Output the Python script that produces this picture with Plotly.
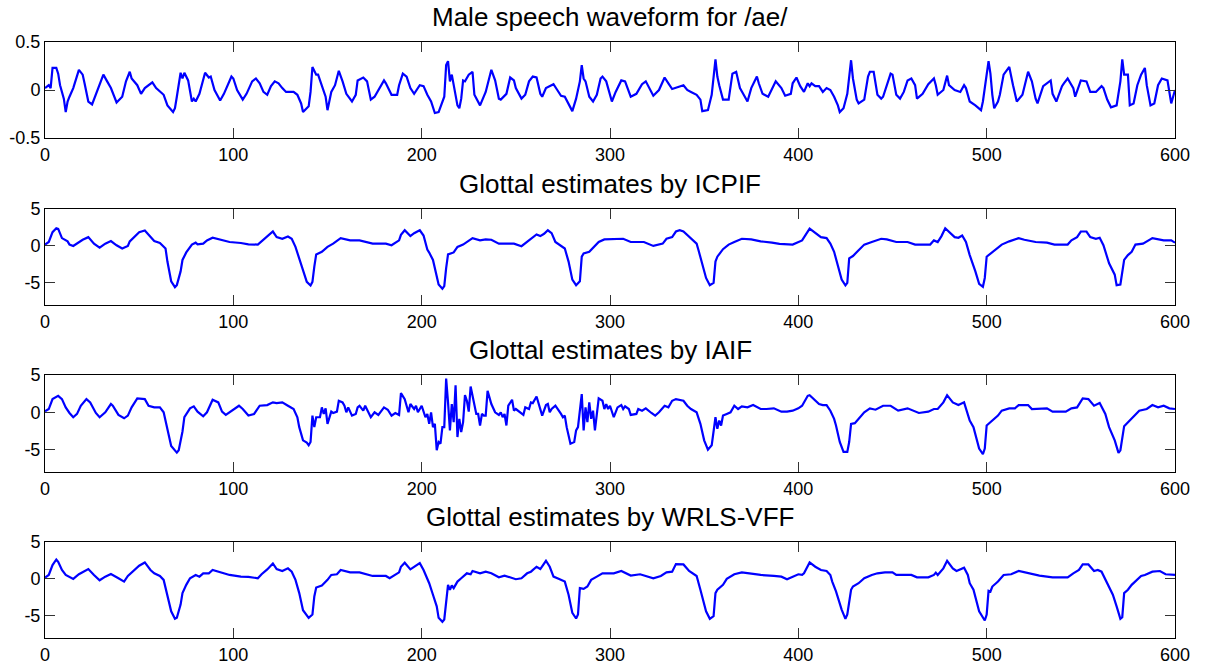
import plotly.graph_objects as go

# ---------------- data (sample index, value) ----------------
speech_t = [0,2,3,4,6,7,8,10,11,12,13,15,18,20,21,23,25,27,29,31,33,35,38,41,43,45,46,49,51,53,57,59,63,65,68,69,70,72,73,74,76,78,79,80,82,85,87,88,90,93,95,99,100,102,105,107,110,112,114,116,118,120,122,124,126,128,132,134,136,137,140,141,142,144,145,147,149,150,152,154,156,158,160,163,165,166,169,171,173,175,177,180,181,184,187,188,190,192,194,196,199,
            201,203,205,207,209,212,213,214,215,216,217,219,220,221,222,223,225,227,228,231,234,237,239,241,242,245,247,249,250,253,255,257,259,261,263,264,266,268,270,272,274,276,278,280,282,284,285,286,287,289,291,293,295,296,298,300,301,303,306,308,311,314,317,319,320,323,326,329,331,333,339,341,343,346,348,349,352,354,356,357,358,360,363,365,367,369,371,373,375,378,379,381,384,387,388,391,393,396,397,399,
            401,403,405,406,407,409,411,413,415,417,419,421,422,424,426,428,429,431,432,435,437,438,440,442,444,445,447,449,450,452,454,456,458,460,462,463,466,469,472,473,474,477,479,480,483,486,488,489,491,494,497,498,501,502,503,504,506,507,509,512,514,516,519,522,524,526,527,530,534,535,537,540,541,543,546,547,550,553,555,558,561,562,564,566,569,571,572,573,575,576,578,580,582,584,585,587,589,591,593,596,598,600]
speech_v = [0.02,0.05,0.02,0.23,0.23,0.17,0.05,-0.09,-0.23,-0.12,-0.07,0.02,0.21,0.16,0.07,-0.12,-0.15,-0.05,0.07,0.16,0.09,0.02,-0.13,-0.07,0.09,0.19,0.12,0.05,-0.04,0.02,0.08,0.02,-0.05,-0.16,-0.23,-0.19,-0.07,0.18,0.12,0.18,0.10,-0.12,-0.09,-0.12,-0.04,0.18,0.13,0.14,0.0,-0.11,-0.04,0.14,0.12,0.0,-0.10,-0.04,0.09,0.12,0.07,-0.02,-0.05,0.04,0.09,0.07,0.02,-0.02,-0.02,-0.05,-0.14,-0.23,-0.17,-0.02,0.24,0.16,0.16,0.05,-0.07,-0.21,-0.02,0.05,0.20,0.09,-0.04,-0.12,-0.05,0.10,0.13,0.09,-0.10,-0.07,0.0,0.10,0.07,-0.05,-0.05,0.05,0.17,0.14,0.02,-0.04,0.05,
            0.04,-0.05,-0.12,-0.24,-0.23,-0.07,0.26,0.30,0.09,0.16,0.05,-0.16,-0.19,-0.09,0.10,0.09,0.16,0.19,-0.05,-0.16,-0.02,0.21,0.10,-0.09,-0.10,-0.04,0.13,0.10,0.02,-0.09,-0.05,0.09,0.14,0.13,-0.04,-0.07,0.02,0.04,0.06,0.0,-0.06,-0.07,-0.14,-0.22,-0.09,0.09,0.26,0.12,0.09,-0.07,-0.12,-0.05,0.12,0.14,0.09,-0.04,-0.12,-0.02,0.10,0.09,-0.07,-0.04,0.06,0.09,0.05,-0.06,0.0,0.13,0.07,0.01,0.05,0.0,-0.02,-0.05,-0.10,-0.22,-0.21,-0.05,0.32,0.14,0.05,-0.10,-0.10,0.17,0.19,0.02,-0.05,-0.12,0.02,0.14,0.07,-0.04,-0.07,0.05,0.09,0.02,-0.06,-0.04,0.07,0.13,
            0.04,-0.02,0.07,0.04,0.07,0.04,0.04,-0.02,0.02,0.0,-0.07,-0.16,-0.23,-0.19,-0.04,0.31,0.12,-0.10,-0.14,-0.10,0.14,0.19,0.19,-0.05,-0.09,-0.07,0.05,0.17,0.16,-0.05,-0.09,-0.02,0.10,0.12,0.05,-0.09,-0.04,0.06,0.12,0.05,-0.05,0.0,0.15,0.05,0.0,-0.02,0.05,0.02,-0.12,-0.16,-0.21,-0.12,0.30,0.17,-0.05,-0.19,-0.12,-0.05,0.16,0.24,0.05,-0.12,-0.05,0.19,0.09,-0.09,-0.14,0.04,0.10,-0.04,-0.12,0.04,0.07,0.12,0.02,-0.07,0.10,0.09,-0.02,-0.02,0.04,0.02,-0.10,-0.18,-0.16,0.09,0.32,0.16,0.16,-0.16,-0.14,0.05,0.16,0.23,0.05,-0.16,-0.14,0.05,0.12,0.10,-0.14,0.0]

icpif_t = [0,2,4,6,7,9,12,13,15,18,20,23,26,29,32,35,38,41,44,45,48,50,53,56,58,61,64,65,67,69,70,72,73,75,78,80,81,84,86,89,93,98,104,108,113,115,118,121,123,126,129,131,133,135,137,139,141,142,143,144,147,150,153,157,162,167,174,181,184,188,189,191,194,196,199,
           201,203,204,206,208,209,211,212,213,214,217,219,222,225,227,231,234,237,241,245,249,253,256,258,261,263,265,267,269,271,274,276,278,280,282,284,285,286,289,292,294,297,302,307,311,318,323,328,330,333,335,337,339,342,346,347,349,351,353,355,356,357,360,363,366,370,375,380,386,390,397,400,402,
           406,409,412,415,417,419,421,423,425,426,427,429,432,435,439,444,447,452,458,462,470,472,474,476,478,480,483,485,487,489,491,494,496,498,499,500,502,505,508,512,517,520,526,532,536,543,545,548,550,553,555,558,560,562,565,568,569,571,573,575,577,579,583,588,590,594,598,600]
icpif_v = [0.18,0.53,1.86,2.39,2.3,1.06,0.62,0.18,0.0,0.53,0.84,1.19,0.31,-0.22,0.31,0.66,0.09,-0.35,0.0,0.62,1.33,1.86,2.08,1.28,0.66,0.4,-0.35,-2.12,-4.78,-5.58,-5.31,-3.45,-1.9,-0.88,0.18,0.44,0.22,0.31,0.75,1.11,0.84,0.53,0.4,0.22,0.18,0.62,1.33,1.95,1.19,0.97,1.28,0.97,-0.13,-1.68,-3.45,-4.87,-5.35,-4.87,-2.79,-1.15,-0.8,-0.13,0.31,1.06,0.75,0.75,0.31,0.31,0.09,0.75,1.5,2.12,1.33,1.73,2.12,
           1.4,-0.5,-0.9,-1.9,-3.89,-5.22,-5.8,-5.44,-3.0,-1.15,-0.88,-0.13,0.18,0.75,1.06,0.75,0.88,0.84,0.31,0.31,0.31,-0.04,0.53,0.97,1.55,1.33,1.64,2.12,1.73,0.53,0.0,-0.35,-2.12,-4.56,-5.31,-4.78,-1.46,-1.02,-0.8,0.09,0.53,0.88,0.88,0.97,0.53,0.53,0.0,0.31,0.97,1.19,1.95,2.12,1.95,1.19,0.31,-0.58,-2.35,-4.34,-5.31,-5.0,-2.12,-1.46,-0.44,0.18,0.53,0.97,0.88,0.62,0.44,0.27,0.18,0.53,0.75,
           2.35,1.77,1.19,1.06,0.31,-0.8,-2.79,-4.56,-5.35,-5.0,-1.68,-1.37,-0.58,0.18,0.53,0.97,0.88,0.53,0.53,0.18,0.18,0.75,0.53,1.33,2.39,1.86,1.19,1.11,1.42,0.53,-1.24,-3.45,-5.13,-5.53,-4.34,-1.46,-1.02,-0.35,0.18,0.62,1.06,0.84,0.53,0.44,0.18,0.18,0.75,1.19,1.95,1.95,1.19,0.97,1.11,0.09,-2.35,-3.89,-5.31,-5.22,-1.9,-1.24,-0.8,0.18,0.31,1.06,0.97,0.75,0.75,0.44]

iaif_t = [0,2,4,7,9,11,13,15,17,19,22,24,27,29,32,35,36,39,42,44,46,49,53,55,58,61,63,65,67,70,71,73,74,77,79,81,84,86,89,92,94,96,99,103,105,108,111,114,118,121,123,126,129,132,134,135,137,139,140,141,142,143,144,146,147,148,149,150,152,153,155,156,158,159,160,161,163,165,166,167,169,170,173,175,177,180,182,184,186,188,189,191,193,194,196,197,198,
          200,202,203,204,205,206,207,208,209,210,211,212,213,214,215,216,217,218,219,220,221,222,223,224,225,226,227,229,230,231,232,233,234,235,237,239,241,242,243,244,245,246,248,249,250,252,254,255,257,258,259,261,263,264,266,267,268,269,271,273,274,275,276,277,279,281,282,283,284,285,286,287,288,289,290,291,292,293,294,296,297,298,299,300,302,304,306,307,308,310,311,314,315,317,319,322,324,326,329,331,333,335,339,341,343,346,348,350,352,354,356,357,358,359,360,362,364,366,368,370,373,376,380,383,387,391,394,397,400,402,405,
          406,408,411,413,415,417,419,420,422,424,426,427,428,430,432,435,438,441,445,449,453,458,464,469,472,474,477,479,482,485,488,489,491,493,496,498,499,500,503,506,508,512,515,517,522,524,532,535,542,545,548,551,554,557,560,563,565,568,570,571,573,575,578,581,585,588,591,594,597,600]
iaif_v = [0.13,0.44,1.77,2.21,1.77,0.66,-0.09,-0.66,-0.22,0.88,1.77,1.33,-0.09,-0.66,0.0,1.11,0.88,-0.35,-0.8,-0.44,0.66,1.86,1.77,0.88,0.66,0.66,0.0,-2.43,-4.51,-5.4,-5.09,-2.57,-0.66,0.53,0.8,0.09,-0.53,0.0,1.68,1.33,0.09,-0.35,0.22,0.88,0.44,-0.44,-0.22,0.88,0.97,1.33,1.24,1.33,0.88,0.44,-0.66,-1.99,-3.76,-4.07,-4.42,-3.98,-0.44,-1.99,-0.66,-0.66,0.66,-0.22,0.53,-1.55,0.09,-0.09,0.09,1.55,1.33,0.88,0.0,0.66,-0.44,-0.22,0.66,0.88,0.22,0.88,-0.66,0.0,-0.35,0.66,0.35,-0.44,-0.09,-0.35,2.57,1.77,0.0,1.11,0.44,0.88,0.0,
          0.88,-0.66,-0.22,-1.55,0.0,-1.99,-1.55,-5.09,-3.98,-4.2,-1.99,-1.99,4.51,1.33,-2.43,1.11,-1.33,3.63,-3.32,-0.88,-2.65,-1.33,2.3,1.55,0.09,3.45,2.21,-0.22,-0.22,-1.77,-0.22,-0.44,-0.44,2.88,1.11,0.0,-0.35,0.0,-0.66,-0.22,-1.77,0.88,1.68,0.22,0.44,0.0,-0.35,0.66,0.44,1.33,1.24,2.12,0.44,-0.44,0.97,1.11,0.0,0.44,0.88,0.22,-0.22,-0.66,-0.44,-1.99,-4.2,-3.98,-2.43,-1.99,0.22,2.43,-2.43,0.66,-1.33,1.33,-0.88,0.22,-2.43,0.22,1.86,1.55,0.44,1.11,0.44,0.88,-0.66,0.66,0.97,0.44,0.8,0.44,-0.35,-0.22,0.44,0.22,0.53,-0.09,-0.44,0.0,0.88,0.66,1.55,1.77,1.55,0.88,0.44,0.0,-1.55,-3.76,-5.0,-4.42,-0.66,-2.21,-1.11,-1.77,-0.44,-0.22,0.0,0.88,0.44,0.8,0.66,0.97,0.44,0.44,0.53,0.09,0.09,0.22,0.53,0.88,2.21,
          2.3,1.86,1.11,0.97,0.97,0.22,-0.88,-1.77,-3.98,-5.31,-5.31,-3.98,-1.55,-1.46,-0.88,0.0,0.53,0.35,0.88,0.88,0.22,0.53,-0.09,0.09,0.44,0.44,1.33,2.3,1.33,0.97,1.33,0.44,-1.11,-1.99,-4.87,-5.62,-4.87,-1.77,-1.11,-0.44,0.22,0.53,0.53,0.97,0.97,0.44,0.53,0.09,0.09,0.53,0.66,1.86,1.77,0.88,1.24,-0.22,-1.99,-3.76,-5.44,-5.09,-1.86,-1.33,-0.66,0.22,0.44,0.97,0.66,0.88,0.53,0.44]

wrls_t = [0,2,4,6,7,9,11,13,15,18,20,23,26,29,32,35,39,42,44,47,50,53,56,58,61,63,65,67,69,70,72,73,75,77,80,82,84,87,89,94,98,104,108,113,115,118,121,123,126,129,131,133,135,137,139,140,142,143,144,147,150,152,155,157,162,167,174,181,183,188,189,191,194,196,199,
          201,204,206,208,209,211,212,213,214,215,216,217,219,221,224,226,227,231,234,237,241,244,246,250,253,256,258,261,263,266,268,270,273,276,278,280,282,283,284,286,288,290,293,296,302,306,311,316,323,327,330,333,335,339,342,346,348,351,353,355,356,357,360,362,366,370,374,380,387,391,394,397,400,402,
          403,406,409,412,415,417,418,420,423,425,426,428,429,432,435,439,442,446,450,452,460,463,469,472,473,474,477,479,482,484,488,490,491,493,496,499,500,501,502,503,506,509,513,517,523,528,535,543,546,549,551,554,557,559,561,564,567,569,571,572,573,575,577,582,584,588,592,595,599,600]
wrls_v = [0.18,0.54,1.88,2.63,2.32,1.21,0.54,0.31,0.0,0.63,0.89,1.34,0.54,-0.18,0.31,0.67,0.09,-0.36,0.4,1.07,1.79,2.23,1.21,0.76,0.4,-0.13,-2.14,-4.38,-5.4,-5.27,-3.48,-1.92,-0.8,0.09,0.54,0.31,0.76,0.76,1.21,0.89,0.54,0.31,0.27,0.09,0.63,1.29,2.1,1.34,1.07,1.43,0.98,-0.13,-1.92,-4.24,-5.04,-5.27,-4.82,-2.37,-1.16,-0.89,-0.13,0.54,0.63,1.21,0.89,0.89,0.4,0.4,0.09,0.89,1.65,2.19,1.29,1.65,2.14,
          1.21,-0.58,-2.14,-3.71,-5.27,-5.8,-5.49,-2.59,-0.8,-1.47,-0.89,-1.25,-0.36,0.09,0.76,0.63,1.07,0.76,0.98,0.76,0.22,0.45,0.31,-0.04,0.09,0.76,0.98,1.65,1.34,2.46,1.65,0.31,0.0,-0.36,-2.14,-4.6,-5.36,-4.82,-1.25,-1.34,-1.03,-0.13,0.31,0.76,0.76,1.07,0.45,0.63,0.09,0.4,0.89,0.98,2.01,1.96,1.07,0.4,-1.47,-4.38,-5.4,-5.04,-1.92,-1.47,-0.8,0.0,0.63,0.89,0.76,0.54,0.4,0.31,-0.04,0.31,0.63,0.54,
          0.76,2.23,1.65,1.21,1.07,0.54,-0.36,-1.7,-4.15,-5.4,-4.82,-1.47,-1.03,-0.58,0.09,0.54,0.76,0.89,0.89,0.54,0.54,0.22,0.22,0.54,0.85,0.54,1.43,2.46,1.43,1.07,1.52,0.54,-0.58,-1.47,-4.38,-5.63,-4.82,-1.61,-1.7,-1.03,-0.36,0.54,0.63,1.07,0.76,0.45,0.22,0.22,0.76,1.21,1.96,1.96,1.07,1.21,0.98,-0.58,-2.14,-3.71,-5.4,-5.18,-1.92,-1.47,-0.8,0.4,0.54,0.98,1.07,0.63,0.63,0.54]

titles = ["Male speech waveform for /ae/", "Glottal estimates by ICPIF",
          "Glottal estimates by IAIF", "Glottal estimates by WRLS-VFF"]
x_ticks = [0, 100, 200, 300, 400, 500, 600]
y_ranges = [[-0.5, 0.5], [-8, 5], [-8, 5], [-8, 5]]
y_ticks = [[-0.5, 0, 0.5], [-5, 0, 5], [-5, 0, 5], [-5, 0, 5]]
y_ticktext = [["-0.5", "0", "0.5"], ["-5", "0", "5"], ["-5", "0", "5"], ["-5", "0", "5"]]

series = [(speech_t, speech_v), (icpif_t, icpif_v), (iaif_t, iaif_v), (wrls_t, wrls_v)]

# ---------------- figure ----------------
W, H = 1208, 666
ml, mr, mt, mb = 45, 33, 42, 28
ph = H - mt - mb
panel_px = [(42, 138), (209, 305), (375, 472), (542, 638)]
domains = [[(H - mb - b) / ph, (H - mb - t) / ph] for (t, b) in panel_px]
domains[0][1] = 1.0
domains[3][0] = 0.0

FONT = "Arial, Liberation Sans, sans-serif"
fig = go.Figure()
layout = dict(width=W, height=H, margin=dict(l=ml, r=mr, t=mt, b=mb, autoexpand=False),
              paper_bgcolor="white", plot_bgcolor="white", showlegend=False,
              font=dict(family=FONT, size=18, color="black"))
annotations = []
for i, (t, v) in enumerate(series):
    n = "" if i == 0 else str(i + 1)
    fig.add_trace(go.Scatter(x=t, y=v, mode="lines",
                             line=dict(color="#0000ff", width=2.2),
                             xaxis="x" + n, yaxis="y" + n, hoverinfo="skip"))
    layout["xaxis" + n] = dict(range=[0, 600], tickvals=x_ticks, ticks="inside", ticklen=10,
                               tickcolor="#333", showline=True, linecolor="black", linewidth=1,
                               mirror="ticks", showgrid=False, zeroline=False, automargin=False,
                               anchor="y" + n, domain=[0, 1],
                               tickfont=dict(family=FONT, size=18))
    layout["yaxis" + n] = dict(range=y_ranges[i], tickvals=y_ticks[i], ticktext=y_ticktext[i],
                               ticks="inside", ticklen=10, tickcolor="#333", showline=True,
                               linecolor="black", linewidth=1, mirror="ticks", showgrid=False,
                               zeroline=False, automargin=False, anchor="x" + n, domain=domains[i],
                               tickfont=dict(family=FONT, size=18))
    annotations.append(dict(text=titles[i], xref="paper", yref="paper", x=0.5,
                            y=domains[i][1], xanchor="center", yanchor="bottom", yshift=8,
                            showarrow=False, font=dict(family=FONT, size=26, color="black")))
layout["annotations"] = annotations
fig.update_layout(**layout)
fig.write_html("out.html")
